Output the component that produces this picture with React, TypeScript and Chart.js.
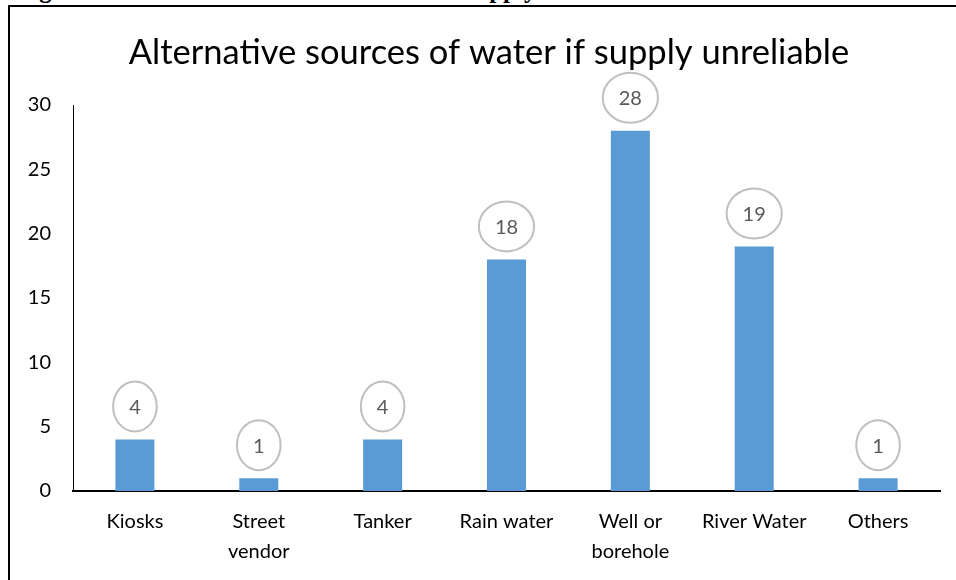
import React, { useEffect, useRef } from "react";
import Chart from "chart.js/auto";

const categories: (string | string[])[] = [
  "Kiosks",
  ["Street", "vendor"],
  "Tanker",
  "Rain water",
  ["Well or", "borehole"],
  "River Water",
  "Others",
];
const counts: number[] = [4, 1, 4, 18, 28, 19, 1];
const chartTitle = "Alternative sources of water if supply unreliable";
const captionText = "Figure 4.9: Alternative sources of water if supply unreliable";
const yMin = 0;
const yMax = 30;
const yStep = 5;

const FONT = "Lato, 'Open Sans', sans-serif";

const titlePlugin = {
  id: "offsetTitle",
  afterDraw(chart: any) {
    const ctx = chart.ctx as CanvasRenderingContext2D;
    ctx.save();
    ctx.font = `34.5px ${FONT}`;
    ctx.fillStyle = "#000000";
    ctx.textAlign = "center";
    ctx.textBaseline = "middle";
    ctx.fillText(chartTitle, 489, 53);
    ctx.restore();
  },
};

const bubbleLabels = {
  id: "bubbleLabels",
  afterDatasetsDraw(chart: any) {
    const ctx = chart.ctx as CanvasRenderingContext2D;
    const meta = chart.getDatasetMeta(0);
    const data = chart.data.datasets[0].data as number[];
    ctx.save();
    ctx.font = `20px ${FONT}`;
    meta.data.forEach((bar: any, i: number) => {
      const txt = String(data[i]);
      const w = ctx.measureText(txt).width;
      const rx = w / 2 + 16;
      const ry = 25;
      const cx = bar.x;
      const cy = bar.y - 8 - ry;
      ctx.beginPath();
      ctx.ellipse(cx, cy, rx, ry, 0, 0, Math.PI * 2);
      ctx.fillStyle = "#ffffff";
      ctx.fill();
      ctx.lineWidth = 2;
      ctx.strokeStyle = "#BFBFBF";
      ctx.stroke();
      ctx.fillStyle = "#595959";
      ctx.textAlign = "center";
      ctx.textBaseline = "middle";
      ctx.fillText(txt, cx, cy + 1);
    });
    ctx.restore();
  },
};

export default function App() {
  const ref = useRef<HTMLCanvasElement | null>(null);

  useEffect(() => {
    if (!ref.current) return;
    const chart = new Chart(ref.current, {
      type: "bar",
      data: {
        labels: categories,
        datasets: [
          {
            data: counts,
            backgroundColor: "#5B9BD5",
            borderWidth: 0,
            barPercentage: 0.315,
            categoryPercentage: 1,
          },
        ],
      },
      options: {
        responsive: false,
        maintainAspectRatio: false,
        animation: false,
        layout: { padding: { left: 0, right: 16, top: 105, bottom: 0 } },
        plugins: {
          legend: { display: false },
          tooltip: { enabled: false },
          title: { display: false },
        },
        scales: {
          x: {
            grid: { display: false, drawTicks: false },
            border: { display: true, color: "#000000", width: 2 },
            ticks: {
              color: "#000000",
              font: { family: FONT, size: 20, lineHeight: 1.5 },
              padding: 16,
              maxRotation: 0,
              minRotation: 0,
              autoSkip: false,
            },
            afterFit: (s: any) => {
              s.height = 89;
            },
          },
          y: {
            min: yMin,
            max: yMax,
            grid: { display: false, drawTicks: false },
            border: { display: true, color: "#000000", width: 1 },
            ticks: {
              stepSize: yStep,
              color: "#000000",
              font: { family: FONT, size: 20 },
              padding: 22,
            },
            afterFit: (s: any) => {
              s.width = 73;
            },
          },
        },
      },
      plugins: [bubbleLabels, titlePlugin],
    });
    return () => chart.destroy();
  }, []);

  return (
    <div
      style={{
        position: "fixed",
        left: 0,
        top: 0,
        width: 956,
        height: 580,
        overflow: "hidden",
        background: "#ffffff",
      }}
    >
      <div
        style={{
          position: "absolute",
          left: 17,
          top: -23,
          font: "bold 25px 'Liberation Serif', 'Times New Roman', serif",
          lineHeight: "25px",
          whiteSpace: "nowrap",
          color: "#000",
        }}
      >
        {captionText}
      </div>
      <div
        style={{
          position: "absolute",
          left: 8,
          top: 5,
          width: 1000,
          height: 700,
          border: "2px solid #000",
          boxSizing: "border-box",
          background: "transparent",
        }}
      />
      <canvas
        ref={ref}
        width={956}
        height={580}
        style={{ position: "absolute", left: 0, top: 0 }}
      />
    </div>
  );
}
